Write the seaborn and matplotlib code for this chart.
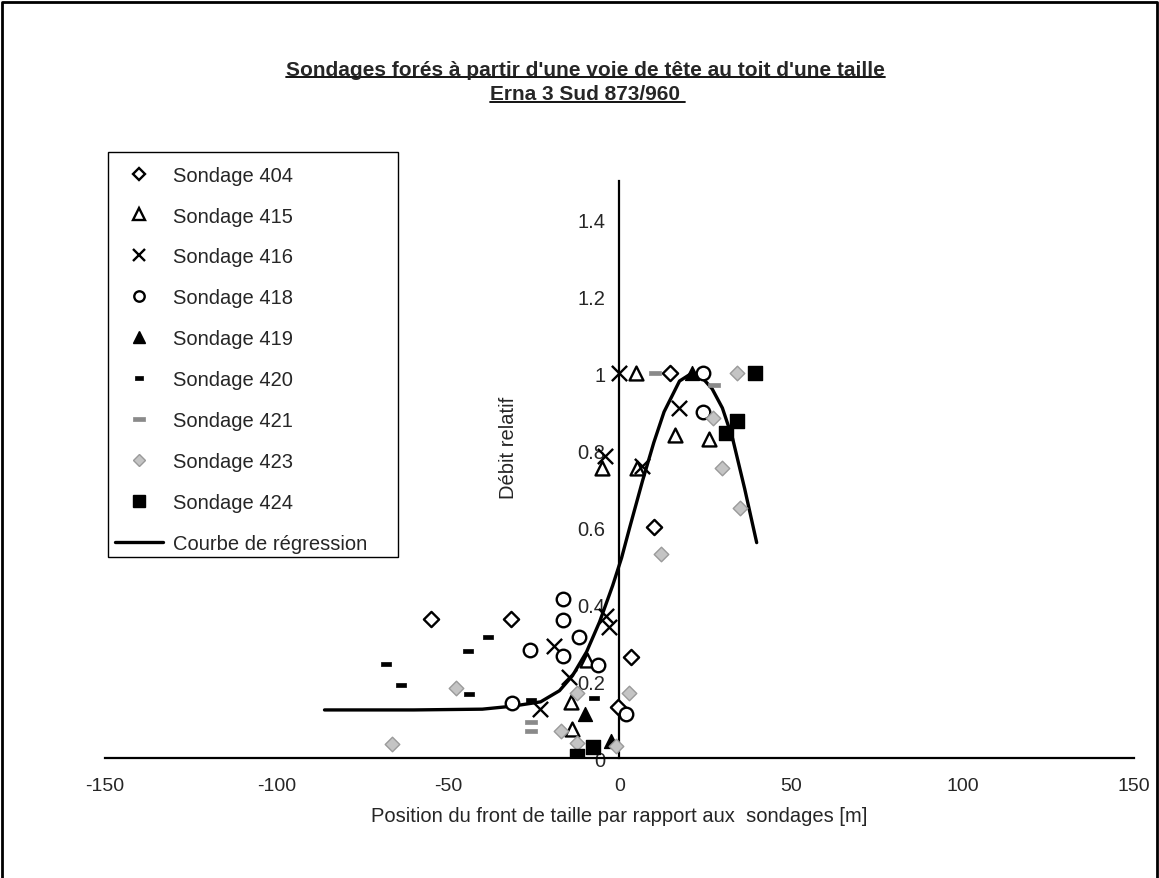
import numpy as np
import matplotlib.pyplot as plt
import seaborn as sns
from matplotlib.lines import Line2D
from matplotlib.patches import Rectangle
from matplotlib.ticker import MultipleLocator, FuncFormatter

# values: position of the face [m] / relative flow
s404_x = [-55, -31.5, -0.3, 3.5, 10.2, 14.6]
s404_y = [0.362, 0.362, 0.133, 0.263, 0.60, 1.0]
s415_x = [-14, -13.7, -9.6, -5.2, 4.7, 5, 16.3, 26.2]
s415_y = [0.145, 0.075, 0.255, 0.755, 1.0, 0.755, 0.84, 0.83]
s416_x = [-23.3, -19.2, -14.6, -4, -3, -4.1, 0, 6.7, 17.3]
s416_y = [0.128, 0.29, 0.21, 0.37, 0.34, 0.785, 1.0, 0.758, 0.91]
s418_x = [-31.2, -26.2, -16.6, -16.6, -16.6, -11.7, -6.4, 2, 24.3, 24.3]
s418_y = [0.143, 0.28, 0.414, 0.36, 0.266, 0.315, 0.242, 0.115, 1.0, 0.9]
s419_x = [-10.2, -2.4, 21]
s419_y = [0.115, 0.045, 1.0]
s420_x = [-68, -63.6, -44.3, -44, -38.2, -25.7, -7.3]
s420_y = [0.245, 0.19, 0.278, 0.167, 0.315, 0.15, 0.157]
s421_x = [-25.7, -25.7, 10.5, 27.7]
s421_y = [0.094, 0.07, 1.0, 0.97]
s423_x = [-66.2, -47.8, -17, -12.5, -12.5, -0.9, 2.9, 12.2, 27.2, 30, 34.4, 35]
s423_y = [0.036, 0.182, 0.07, 0.17, 0.04, 0.03, 0.17, 0.53, 0.885, 0.755, 1.0, 0.65]
s424_x = [-12.5, -7.8, 31.2, 34.4, 39.4]
s424_y = [0.005, 0.028, 0.845, 0.875, 1.0]

# regression curve
reg_x = [-86, -60, -40, -31, -23, -17.5, -13.7, -9.6, -5.8, -2, 0.6, 3, 6.7, 10,
         13, 17.5, 21, 24, 27, 30, 33, 36.5, 40]
reg_y = [0.125, 0.125, 0.127, 0.135, 0.146, 0.175, 0.214, 0.276, 0.354, 0.448, 0.52,
         0.6, 0.72, 0.82, 0.9, 0.98, 1.0, 0.99, 0.96, 0.91, 0.83, 0.7, 0.56]

labels = ['Sondage 404', 'Sondage 415', 'Sondage 416', 'Sondage 418', 'Sondage 419',
          'Sondage 420', 'Sondage 421', 'Sondage 423', 'Sondage 424']

sns.set_style('white')
plt.rcParams['font.family'] = ['Liberation Sans', 'DejaVu Sans']
plt.rcParams['axes.unicode_minus'] = False

dash = [(-1, -0.4), (1, -0.4), (1, 0.4), (-1, 0.4), (-1, -0.4)]

# marker, face, edge, size, linewidth, legend markersize
styles = [
    ('D', 'white', 'black', 60, 1.7, 6.5),
    ('^', 'white', 'black', 100, 1.7, 8),
    ('x', 'black', 'black', 120, 1.7, 8),
    ('o', 'white', 'black', 95, 1.7, 7.5),
    ('^', 'black', 'black', 100, 1.0, 9),
    (dash, 'black', 'black', 50, 0.5, 6),
    (dash, '#8a8a8a', '#8a8a8a', 75, 0.5, 8),
    ('D', '#c4c4c4', '#9a9a9a', 55, 1.0, 6),
    ('s', 'black', 'black', 100, 1.0, 8.5),
]
series = [(s404_x, s404_y), (s415_x, s415_y), (s416_x, s416_y), (s418_x, s418_y),
          (s419_x, s419_y), (s420_x, s420_y), (s421_x, s421_y), (s423_x, s423_y),
          (s424_x, s424_y)]

fig = plt.figure(figsize=(11.59, 8.79), dpi=100)
ax = fig.add_axes([0.0906, 0.1365, 0.8878, 0.6564])

sns.lineplot(x=reg_x, y=reg_y, color='black', linewidth=2.4, ax=ax, zorder=2)

for (xs, ys), (m, fc, ec, s, lw, _) in zip(series, styles):
    sns.scatterplot(x=xs, y=ys, marker=m, s=s, color=fc, edgecolor=ec,
                    linewidth=lw, ax=ax, zorder=3, legend=False)

ax.set_xlim(-150, 150)
ax.set_ylim(0, 1.5)
ax.spines['left'].set_position(('data', 0))
ax.spines['right'].set_visible(False)
ax.spines['top'].set_visible(False)
for sp in ['left', 'bottom']:
    ax.spines[sp].set_color('black')
    ax.spines[sp].set_linewidth(1.6)

ax.xaxis.set_major_locator(MultipleLocator(50))
ax.xaxis.set_minor_locator(MultipleLocator(10))
ax.yaxis.set_major_locator(MultipleLocator(0.2))
ax.yaxis.set_minor_locator(MultipleLocator(0.1))
ax.yaxis.set_major_formatter(FuncFormatter(lambda v, p: f'{v:g}'))
ax.tick_params(which='both', direction='inout', length=8, width=1.2, color='black')
ax.tick_params(axis='x', labelsize=14, pad=10)
ax.tick_params(axis='y', labelsize=14.5, pad=6)

ax.set_xlabel('Position du front de taille par rapport aux  sondages [m]', fontsize=14.5,
              va='center')
ax.xaxis.set_label_coords(0.5, -0.1)
ax.set_ylabel('Débit relatif', fontsize=14.5, va='center')
ax.yaxis.set_label_coords(0.392, 0.539)

# legend: entries without frame, box drawn separately (wider right margin)
handles = []
for m, fc, ec, s, lw, ms in styles:
    handles.append(Line2D([], [], marker=m, linestyle='none', markersize=ms,
                          markerfacecolor=fc, markeredgecolor=ec, markeredgewidth=lw))
handles.append(Line2D([], [], color='black', linewidth=2.4))
ax.legend(handles, labels + ['Courbe de régression'], loc='upper left',
          bbox_to_anchor=(0.093, 0.8185), bbox_transform=fig.transFigure,
          fontsize=14.5, frameon=False, labelspacing=1.09, handlelength=2.4,
          handletextpad=0.5, borderpad=0.35, borderaxespad=0)
fig.add_artist(Rectangle((0.0932, 0.3652), 0.2502, 0.4608, transform=fig.transFigure,
                         fill=False, edgecolor='black', linewidth=1.0))

title_font = ['Liberation Sans Narrow', 'Liberation Sans', 'DejaVu Sans']
t1 = fig.text(0.505, 0.92, "Sondages forés à partir d'une voie de tête au toit d'une taille",
              ha='center', va='center', fontsize=15, fontweight='bold', family=title_font)
t2 = fig.text(0.507, 0.892, 'Erna 3 Sud 873/960 ', ha='center', va='center', fontsize=15,
              fontweight='bold', family=title_font)

# underline the title lines
fig.canvas.draw()
renderer = fig.canvas.get_renderer()
for t in (t1, t2):
    bb = t.get_window_extent(renderer).transformed(fig.transFigure.inverted())
    fig.add_artist(Line2D([bb.x0, bb.x1], [bb.y0 + 0.002, bb.y0 + 0.002],
                          transform=fig.transFigure, color='black', linewidth=1.3))

# frame around the whole chart
fig.add_artist(Line2D([0.002, 0.002, 0.998, 0.998], [0.0, 0.997, 0.997, 0.0],
                      transform=fig.transFigure, color='black', linewidth=2))

fig.savefig('out.png', dpi=100)
